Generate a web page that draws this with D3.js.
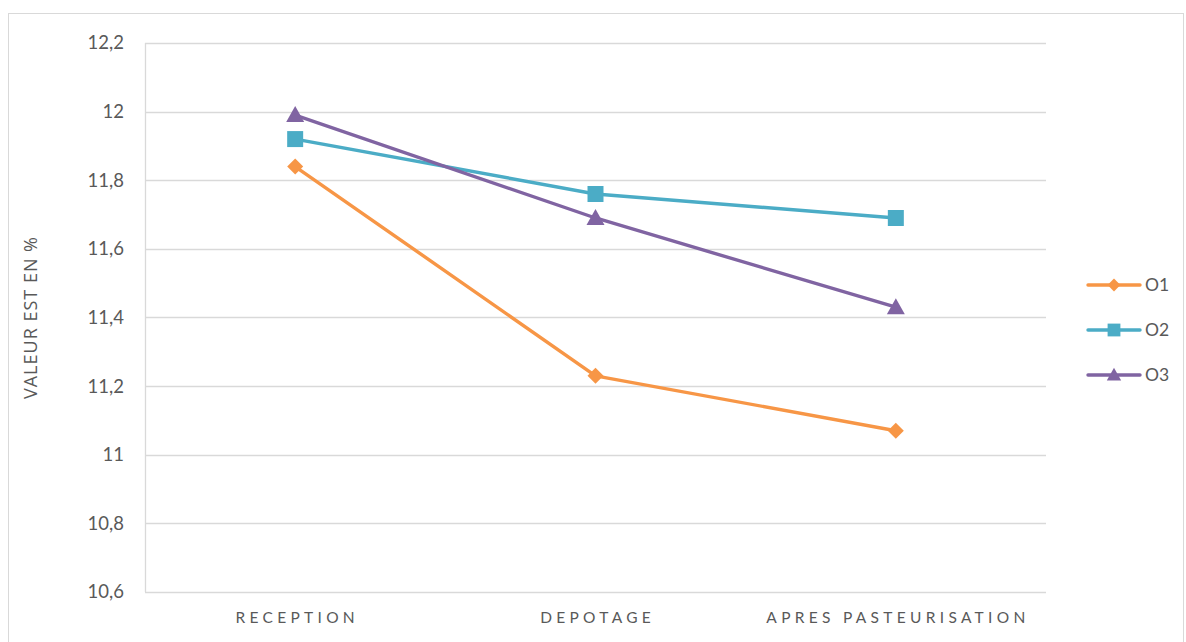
<!DOCTYPE html>
<html>
<head>
<meta charset="utf-8">
<script src="https://cdn.jsdelivr.net/npm/d3@7/dist/d3.min.js"></script>
<style>
  html, body { margin: 0; padding: 0; background: #fff; }
  svg { display: block; font-family: "Open Sans", Lato, sans-serif; }
</style>
</head>
<body>
<svg id="chart" width="1186" height="642"></svg>
<script>
// Stages of the process
const categories = ["RECEPTION", "DEPOTAGE", "APRES PASTEURISATION"];
// Measured values (%) per sample
const o1 = [11.84, 11.23, 11.07];
const o2 = [11.92, 11.76, 11.69];
const o3 = [11.99, 11.69, 11.43];
const seriesNames = ["O1", "O2", "O3"];
const yTicks = [10.6, 10.8, 11, 11.2, 11.4, 11.6, 11.8, 12, 12.2];
const yTitle = "VALEUR EST EN %";

const colors = ["#F79646", "#4BACC6", "#8064A2"];
const series = [o1, o2, o3].map((vals, i) => ({ name: seriesNames[i], vals, color: colors[i] }));

// marker shapes: diamond (rotated square), square, triangle
const markerPath = {
  O1: "M0,-8L8,0L0,8L-8,0Z",
  O2: "M-8,-8H8V8H-8Z",
  O3: "M0,-9L9,7H-9Z"
};

const svg = d3.select("#chart");
const plot = { left: 145, right: 1046, top: 43, bottom: 592 };

// outer chart frame
svg.append("rect")
  .attr("x", 8.5).attr("y", 13.5).attr("width", 1175).attr("height", 640)
  .attr("fill", "#fff").attr("stroke", "#d9d9d9").attr("stroke-width", 1);

const x = d3.scaleBand().domain(categories).range([plot.left, plot.right]);
const y = d3.scaleLinear().domain([10.6, 12.2]).range([plot.bottom, plot.top]);

// horizontal gridlines
svg.append("g").selectAll("line").data(yTicks).join("line")
  .attr("x1", plot.left).attr("x2", plot.right)
  .attr("y1", d => Math.round(y(d)) + 0.5).attr("y2", d => Math.round(y(d)) + 0.5)
  .attr("stroke", "#d9d9d9").attr("stroke-width", 1.3);

// left axis line
svg.append("line")
  .attr("x1", plot.left + 0.5).attr("x2", plot.left + 0.5)
  .attr("y1", plot.top).attr("y2", plot.bottom)
  .attr("stroke", "#d9d9d9").attr("stroke-width", 1.3);

// y tick labels
const fmt = d => String(+d.toFixed(1)).replace(".", ",");
const yAxis = d3.axisLeft(y).tickValues(yTicks).tickFormat(fmt).tickSize(0).tickPadding(21);
const yg = svg.append("g").attr("transform", `translate(${plot.left},0)`).call(yAxis);
yg.select(".domain").remove();
yg.selectAll("text").attr("font-size", 18.5).attr("fill", "#595959")
  .attr("font-family", "Lato, 'Open Sans', sans-serif");

// x tick labels (wide letter spacing)
const xAxis = d3.axisBottom(x).tickSize(0).tickPadding(20);
const xg = svg.append("g").attr("transform", `translate(0,${plot.bottom})`).call(xAxis);
xg.select(".domain").remove();
xg.selectAll("text").attr("font-size", 15.5).attr("fill", "#595959")
  .attr("letter-spacing", "4.3px").attr("dx", "2.1px")
  .attr("font-family", "Lato, 'Open Sans', sans-serif");

// y axis title
svg.append("text")
  .attr("transform", `translate(37,${(plot.top + plot.bottom) / 2}) rotate(-90)`)
  .attr("text-anchor", "middle")
  .attr("font-size", 18).attr("fill", "#595959")
  .attr("letter-spacing", "1px")
  .text(yTitle);

const cx = c => x(c) + x.bandwidth() / 2;
const line = d3.line().x((d, i) => cx(categories[i])).y(d => y(d));

series.forEach(s => {
  svg.append("path").datum(s.vals)
    .attr("d", line).attr("fill", "none")
    .attr("stroke", s.color).attr("stroke-width", 3.4)
    .attr("stroke-linejoin", "round").attr("stroke-linecap", "round");
  svg.append("g").selectAll("path").data(s.vals).join("path")
    .attr("transform", (d, i) => `translate(${cx(categories[i])},${y(d)})`)
    .attr("d", markerPath[s.name])
    .attr("fill", s.color);
});

// legend
const lg = svg.append("g");
series.forEach((s, i) => {
  const ly = 285 + i * 45;
  lg.append("line").attr("x1", 1088).attr("x2", 1140).attr("y1", ly).attr("y2", ly)
    .attr("stroke", s.color).attr("stroke-width", 3.4).attr("stroke-linecap", "round");
  lg.append("path").attr("transform", `translate(1114,${ly}) scale(0.8)`)
    .attr("d", markerPath[s.name])
    .attr("fill", s.color);
  lg.append("text").attr("x", 1145).attr("y", ly).attr("dy", "0.36em")
    .attr("font-size", 17.5).attr("fill", "#595959")
    .attr("font-family", "Lato, 'Open Sans', sans-serif")
    .text(s.name);
});
</script>
</body>
</html>
